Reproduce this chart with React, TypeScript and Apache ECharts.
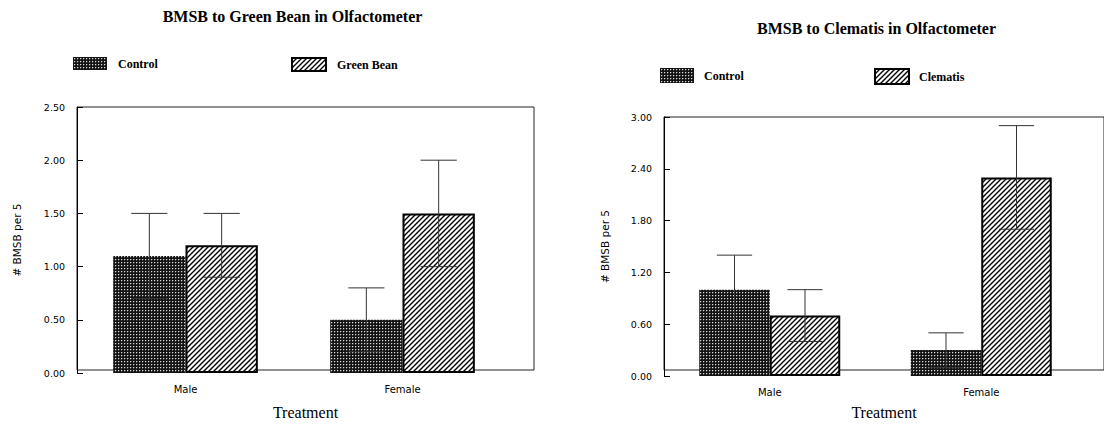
import React, { useEffect, useRef } from 'react';
import * as echarts from 'echarts';

const categories = ['Male', 'Female'];
const beanTitle = 'BMSB to Green Bean in Olfactometer';
const clemTitle = 'BMSB to Clematis in Olfactometer';
const yName = '# BMSB per 5';
const xName = 'Treatment';
const controlName = 'Control';
const beanName = 'Green Bean';
const clemName = 'Clematis';

const beanControl = [1.1, 0.5];
const beanControlErr = [0.4, 0.3];
const beanTreat = [1.2, 1.5];
const beanTreatErr = [0.3, 0.5];

const clemControl = [1.0, 0.3];
const clemControlErr = [0.4, 0.2];
const clemTreat = [0.7, 2.3];
const clemTreatErr = [0.3, 0.6];

const beanAxis = { min: 0, max: 2.5, interval: 0.5 };
const clemAxis = { min: 0, max: 3, interval: 0.6 };

const SERIF = '"Liberation Serif", "Times New Roman", serif';
const SANS = '"DejaVu Sans", sans-serif';

function makeDots() {
  const c = document.createElement('canvas');
  c.width = 3;
  c.height = 3;
  const g = c.getContext('2d')!;
  g.fillStyle = '#141414';
  g.fillRect(0, 0, 3, 3);
  g.fillStyle = '#d8d8d8';
  g.fillRect(1, 1, 1, 1);
  g.fillStyle = '#4a4a4a';
  g.fillRect(2, 1, 1, 1);
  g.fillRect(1, 2, 1, 1);
  return c;
}

function makeHatch() {
  const s = 5;
  const c = document.createElement('canvas');
  c.width = s;
  c.height = s;
  const g = c.getContext('2d')!;
  g.fillStyle = '#fff';
  g.fillRect(0, 0, s, s);
  g.strokeStyle = '#000';
  g.lineWidth = 1.4;
  g.beginPath();
  for (let k = -1; k <= 1; k++) {
    g.moveTo(-1, s * (k + 1) + 1);
    g.lineTo(s + 1, s * k - 1);
  }
  g.stroke();
  return c;
}

function errData(vals: number[], errs: number[]) {
  return vals.map((v, i) => [i, v - errs[i], v + errs[i]]);
}

function errRender(sign: number) {
  return (params: any, api: any) => {
    const cat = api.value(0);
    const low = api.value(1);
    const high = api.value(2);
    const band = api.size([1, 0])[0];
    const pHigh = api.coord([cat, high]);
    const pLow = api.coord([cat, low]);
    const xc = pHigh[0] + (sign * band) / 6;
    const hw = band / 12;
    const style = { stroke: '#333', lineWidth: 1 };
    return {
      type: 'group',
      children: [
        { type: 'line', shape: { x1: xc, y1: pHigh[1], x2: xc, y2: pLow[1] }, style },
        { type: 'line', shape: { x1: xc - hw, y1: pHigh[1], x2: xc + hw, y2: pHigh[1] }, style },
        { type: 'line', shape: { x1: xc - hw, y1: pLow[1], x2: xc + hw, y2: pLow[1] }, style },
      ],
    };
  };
}

export default function App() {
  const ref = useRef<HTMLDivElement>(null);

  useEffect(() => {
    if (!ref.current) return;
    const chart = echarts.init(ref.current, undefined, { renderer: 'svg' });
    const dots = { image: makeDots(), repeat: 'repeat', imageWidth: 3, imageHeight: 3 };
    const hatch = { image: makeHatch(), repeat: 'repeat', imageWidth: 5, imageHeight: 5 };

    const legendText = (pad: number) => ({
      fontFamily: SERIF,
      fontWeight: 'bold',
      fontSize: 12,
      color: '#000',
      padding: [0, 0, 0, pad],
    });

    const catAxis = (gridIndex: number, margin: number) => ({
      type: 'category',
      gridIndex,
      data: categories,
      axisLine: { show: false },
      axisTick: { show: false },
      axisLabel: { margin, fontFamily: SANS, fontSize: 10, color: '#000' },
      splitLine: { show: false },
    });

    const valAxis = (gridIndex: number, ax: any, nameGap: number) => ({
      type: 'value',
      gridIndex,
      min: ax.min,
      max: ax.max,
      interval: ax.interval,
      name: yName,
      nameLocation: 'middle',
      nameRotate: 90,
      nameGap,
      nameTextStyle: { fontFamily: SANS, fontSize: 10.5, color: '#000' },
      axisLine: { show: true, lineStyle: { color: '#000', width: 1 } },
      axisTick: { show: true, inside: true, length: 6, lineStyle: { color: '#000' } },
      axisLabel: {
        margin: 12,
        fontFamily: SANS,
        fontSize: 9.5,
        color: '#000',
        formatter: (v: number) => v.toFixed(2),
      },
      splitLine: { show: false },
    });

    const boxX = (gridIndex: number) => ({
      type: 'value',
      gridIndex,
      min: 0,
      max: 1,
      name: xName,
      nameLocation: 'middle',
      nameGap: 34,
      nameTextStyle: { fontFamily: SERIF, fontSize: 16, color: '#000' },
      axisLine: { show: false },
      axisTick: { show: false },
      axisLabel: { show: false },
      splitLine: { show: false },
    });
    const boxY = (gridIndex: number) => ({
      type: 'value',
      gridIndex,
      min: 0,
      max: 1,
      show: false,
    });

    const barSeries = (name: string, data: number[], axisIdx: number, treat: boolean) => ({
      type: 'bar',
      name,
      xAxisIndex: axisIdx,
      yAxisIndex: axisIdx,
      data,
      barWidth: '33.333%',
      barGap: '0%',
      z: 2,
      itemStyle: treat
        ? { color: hatch, borderColor: '#000', borderWidth: 2 }
        : { color: dots, borderWidth: 0 },
    });

    const errSeries = (name: string, vals: number[], errs: number[], axisIdx: number, sign: number) => ({
      type: 'custom',
      name,
      xAxisIndex: axisIdx,
      yAxisIndex: axisIdx,
      data: errData(vals, errs),
      encode: { x: 0, y: [1, 2] },
      renderItem: errRender(sign),
      z: 5,
    });

    const legendBase = (name: string, left: number, top: number, h: number, pad: number) => ({
      data: [name],
      left,
      top,
      padding: 0,
      icon: 'rect',
      itemWidth: 34,
      itemHeight: h,
      selectedMode: false,
      textStyle: legendText(pad),
    });

    chart.setOption({
      animation: false,
      backgroundColor: '#fff',
      graphic: [
        {
          type: 'text',
          x: 292.5,
          y: 16,
          style: {
            text: beanTitle,
            font: `bold 16px ${SERIF}`,
            fill: '#000',
            textAlign: 'center',
            textVerticalAlign: 'middle',
          },
        },
        {
          type: 'text',
          x: 876.5,
          y: 28,
          style: {
            text: clemTitle,
            font: `bold 16px ${SERIF}`,
            fill: '#000',
            textAlign: 'center',
            textVerticalAlign: 'middle',
          },
        },
      ],
      legend: [
        legendBase(controlName, 73, 57, 13, 6),
        legendBase(beanName, 291, 57, 13, 6),
        legendBase(controlName, 660, 68, 15, 5),
        legendBase(clemName, 874, 68, 15, 5),
      ],
      grid: [
        { left: 77, top: 107, width: 434, height: 266, show: false },
        { left: 77, top: 107, width: 457, height: 266, show: true, borderColor: '#222', borderWidth: 1, backgroundColor: 'transparent' },
        { left: 664, top: 117, width: 423, height: 259, show: false },
        { left: 664, top: 117, width: 445, height: 259, show: true, borderColor: '#222', borderWidth: 1, backgroundColor: 'transparent' },
      ],
      xAxis: [catAxis(0, 11), boxX(1), catAxis(2, 11), boxX(3)],
      yAxis: [valAxis(0, beanAxis, 55), boxY(1), valAxis(2, clemAxis, 54), boxY(3)],
      series: [
        barSeries(controlName, beanControl, 0, false),
        barSeries(beanName, beanTreat, 0, true),
        errSeries('errBeanControl', beanControl, beanControlErr, 0, -1),
        errSeries('errBeanTreat', beanTreat, beanTreatErr, 0, 1),
        barSeries(controlName, clemControl, 2, false),
        barSeries(clemName, clemTreat, 2, true),
        errSeries('errClemControl', clemControl, clemControlErr, 2, -1),
        errSeries('errClemTreat', clemTreat, clemTreatErr, 2, 1),
      ],
    });

    return () => {
      chart.dispose();
    };
  }, []);

  return (
    <div
      ref={ref}
      style={{ position: 'fixed', left: 0, top: 0, width: 1104, height: 425, background: '#fff' }}
    />
  );
}
